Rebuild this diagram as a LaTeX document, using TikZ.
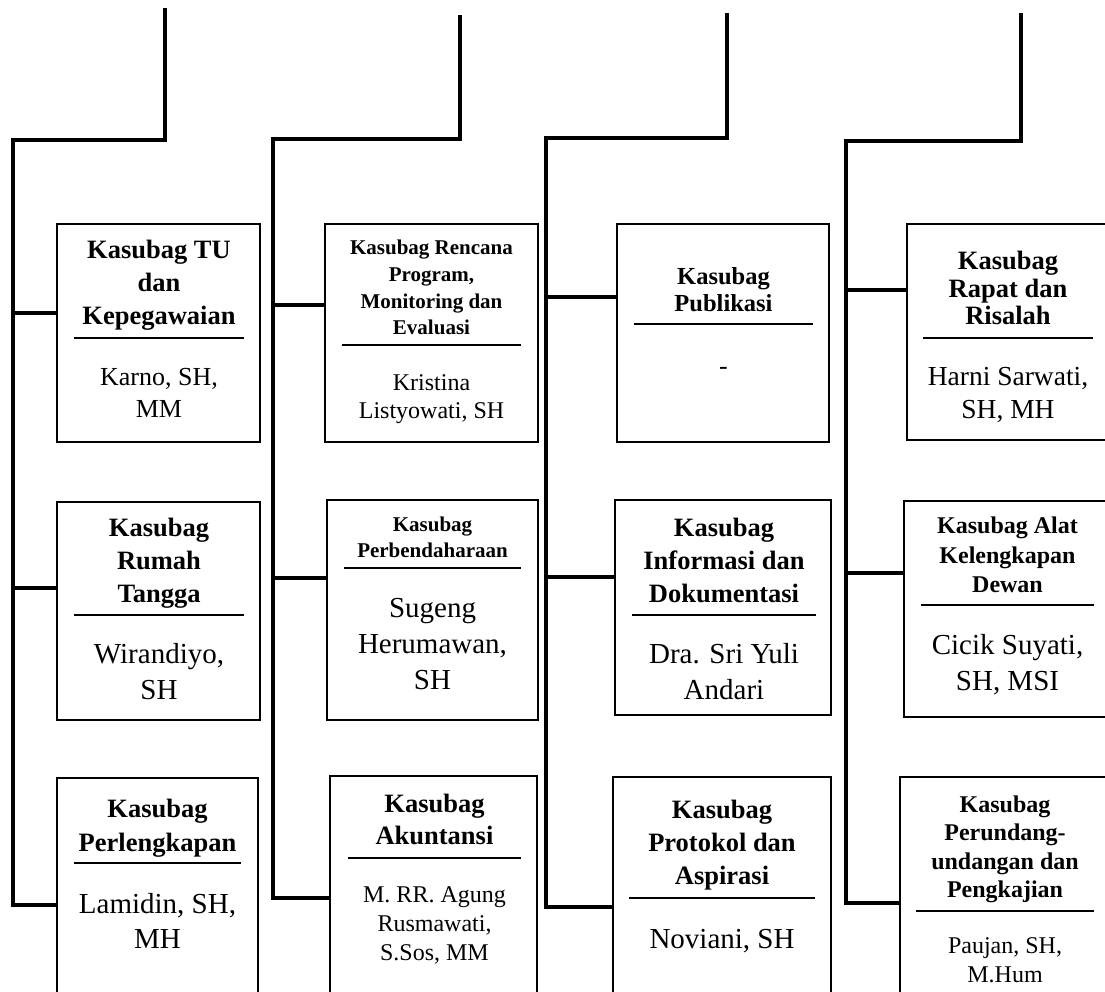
\documentclass[tikz,border=0pt]{standalone}
\usepackage{fontspec}
\setmainfont{Liberation Serif}
\usetikzlibrary{positioning}

\newcommand\uk[2]{\fontsize{#1}{#2}\selectfont}

\tikzset{
  kotak/.style={draw, line width=2.5pt, inner sep=0pt, outer sep=0pt, anchor=north west},
  sekat/.style={line width=2pt},
  jalur/.style={line width=4.5pt, line join=miter},
  judul/.style={align=center, inner sep=0pt},
  nama/.style={align=center, inner sep=0pt},
}

\begin{document}
\begin{tikzpicture}[x=1pt, y=-1pt]
\useasboundingbox (0,0) rectangle (1105,992);
\clip (0,0) rectangle (1105,992);

% kolom 1
\node[kotak, minimum width=203pt, minimum height=218pt] (tu) at (57,224) {};
\draw[sekat] (74,338) -- (244,338);
\coordinate (tu-m) at (159,338);
\node[judul, above=3.1pt of tu-m, font=\bfseries\uk{26.5}{33}] (tu-j) {Kasubag TU\\dan\\Kepegawaian\strut};
\node[nama, below=24.6pt of tu-m, font=\uk{26}{32}] (tu-n) {\strut Karno, SH,\\MM};

\node[kotak, minimum width=203pt, minimum height=218pt] (rt) at (57,502) {};
\draw[sekat] (74,615) -- (244,615);
\coordinate (rt-m) at (159,615);
\node[judul, above=2.1pt of rt-m, font=\bfseries\uk{26.5}{33}] (rt-j) {Kasubag\\Rumah\\Tangga\strut};
\node[nama, below=22.8pt of rt-m, font=\uk{29}{36}] (rt-n) {\strut Wirandiyo,\\SH};

\node[kotak, minimum width=201pt, minimum height=222pt] (pl) at (57,778) {};
\draw[sekat] (74,863) -- (241,863);
\coordinate (pl-m) at (157.5,863);
\node[judul, above=0.8pt of pl-m, font=\bfseries\uk{26.5}{34}] (pl-j) {Kasubag\\Perlengkapan\strut};
\node[nama, below=25.5pt of pl-m, font=\uk{29}{35}] (pl-n) {\strut Lamidin, SH,\\MH};

% kolom 2
\node[kotak, minimum width=213pt, minimum height=218pt] (rp) at (325,224) {};
\draw[sekat] (342,345) -- (521,345);
\coordinate (rp-m) at (431.5,345);
\node[judul, above=2pt of rp-m, font=\bfseries\uk{21}{26.7}] (rp-j) {Kasubag Rencana\\Program,\\Monitoring dan\\Evaluasi\strut};
\node[nama, below=25.4pt of rp-m, font=\uk{24}{28}] (rp-n) {\strut Kristina\\Listyowati, SH};

\node[kotak, minimum width=211pt, minimum height=220pt] (pb) at (327,500) {};
\draw[sekat] (344,568) -- (521,568);
\coordinate (pb-m) at (432.5,568);
\node[judul, above=2pt of pb-m, font=\bfseries\uk{21}{26.7}] (pb-j) {Kasubag\\Perbendaharaan\strut};
\node[nama, below=23.8pt of pb-m, font=\uk{29}{36}] (pb-n) {\strut Sugeng\\Herumawan,\\SH};

\node[kotak, minimum width=207pt, minimum height=224pt] (ak) at (330,776) {};
\draw[sekat] (348,858) -- (521,858);
\coordinate (ak-m) at (434.5,858);
\node[judul, above=3.4pt of ak-m, font=\bfseries\uk{26.5}{32}] (ak-j) {Kasubag\\Akuntansi\strut};
\node[nama, below=23.7pt of ak-m, font=\uk{24}{29}] (ak-n) {\strut M. RR. Agung\\Rusmawati,\\S.Sos, MM};

% kolom 3
\node[kotak, minimum width=212pt, minimum height=218pt] (pu) at (617,224) {};
\draw[sekat] (634,324) -- (813,324);
\coordinate (pu-m) at (723.5,324);
\node[judul, above=3.9pt of pu-m, font=\bfseries\uk{24.5}{27}] (pu-j) {Kasubag\\Publikasi\strut};
\node[nama, below=27.6pt of pu-m, font=\uk{26}{32}] (pu-n) {\strut -};

\node[kotak, minimum width=216pt, minimum height=215pt] (id) at (615,500) {};
\draw[sekat] (632,615) -- (816,615);
\coordinate (id-m) at (724,615);
\node[judul, above=2.1pt of id-m, font=\bfseries\uk{26.5}{33}] (id-j) {Kasubag\\Informasi dan\\Dokumentasi\strut};
\node[nama, below=22.8pt of id-m, font=\uk{29}{36}] (id-n) {\strut Dra. Sri Yuli\\Andari};

\node[kotak, minimum width=218pt, minimum height=223pt] (pa) at (613,777) {};
\draw[sekat] (629,898) -- (815,898);
\coordinate (pa-m) at (722,898);
\node[judul, above=3.1pt of pa-m, font=\bfseries\uk{26.5}{33}] (pa-j) {Kasubag\\Protokol dan\\Aspirasi\strut};
\node[nama, below=24.8pt of pa-m, font=\uk{29}{36}] (pa-n) {\strut Noviani, SH};

% kolom 4
\node[kotak, minimum width=203pt, minimum height=216pt] (rr) at (907,224) {};
\draw[sekat] (923,338) -- (1093,338);
\coordinate (rr-m) at (1008,338);
\node[judul, above=4.75pt of rr-m, font=\bfseries\uk{26.5}{27.5}] (rr-j) {Kasubag\\Rapat dan\\Risalah\strut};
\node[nama, below=23.9pt of rr-m, font=\uk{27.5}{33}] (rr-n) {\strut Harni Sarwati,\\SH, MH};

\node[kotak, minimum width=206pt, minimum height=216pt] (akd) at (904,501) {};
\draw[sekat] (921,605) -- (1094,605);
\coordinate (akd-m) at (1007.5,605);
\node[judul, above=3.15pt of akd-m, font=\bfseries\uk{24}{29.5}] (akd-j) {Kasubag Alat\\Kelengkapan\\Dewan\strut};
\node[nama, below=23.8pt of akd-m, font=\uk{29}{36}] (akd-n) {\strut Cicik Suyati,\\SH, MSI};

\node[kotak, minimum width=210pt, minimum height=223pt] (pp) at (900,777) {};
\draw[sekat] (916,911) -- (1094,911);
\coordinate (pp-m) at (1005,911);
\node[judul, above=4.45pt of pp-m, font=\bfseries\uk{24}{28.5}] (pp-j) {Kasubag\\Perundang-\\undangan dan\\Pengkajian\strut};
\node[nama, below=21.7pt of pp-m, font=\uk{24}{29}] (pp-n) {\strut Paujan, SH,\\M.Hum};

% garis penghubung
\coordinate (a1) at (165,8);
\coordinate (b1) at (165,140);
\coordinate (c1) at (13,140);
\coordinate (d1) at (13,313);
\coordinate (e1) at (13,588);
\coordinate (f1) at (13,905);
\draw[jalur] (a1) -- (b1) -- (c1) -- (f1) -- (f1 -| pl.west);
\draw[jalur] (d1) -- (d1 -| tu.west);
\draw[jalur] (e1) -- (e1 -| rt.west);

\coordinate (a2) at (460,15);
\coordinate (b2) at (460,139);
\coordinate (c2) at (273,139);
\coordinate (d2) at (273,305);
\coordinate (e2) at (273,578);
\coordinate (f2) at (273,898);
\draw[jalur] (a2) -- (b2) -- (c2) -- (f2) -- (f2 -| ak.west);
\draw[jalur] (d2) -- (d2 -| rp.west);
\draw[jalur] (e2) -- (e2 -| pb.west);

\coordinate (a3) at (727,13);
\coordinate (b3) at (727,138);
\coordinate (c3) at (546,138);
\coordinate (d3) at (546,297);
\coordinate (e3) at (546,577);
\coordinate (f3) at (546,907);
\draw[jalur] (a3) -- (b3) -- (c3) -- (f3) -- (f3 -| pa.west);
\draw[jalur] (d3) -- (d3 -| pu.west);
\draw[jalur] (e3) -- (e3 -| id.west);

\coordinate (a4) at (1021,13);
\coordinate (b4) at (1021,141);
\coordinate (c4) at (846,141);
\coordinate (d4) at (846,290);
\coordinate (e4) at (846,573);
\coordinate (f4) at (846,903);
\draw[jalur] (a4) -- (b4) -- (c4) -- (f4) -- (f4 -| pp.west);
\draw[jalur] (d4) -- (d4 -| rr.west);
\draw[jalur] (e4) -- (e4 -| akd.west);
\end{tikzpicture}
\end{document}
